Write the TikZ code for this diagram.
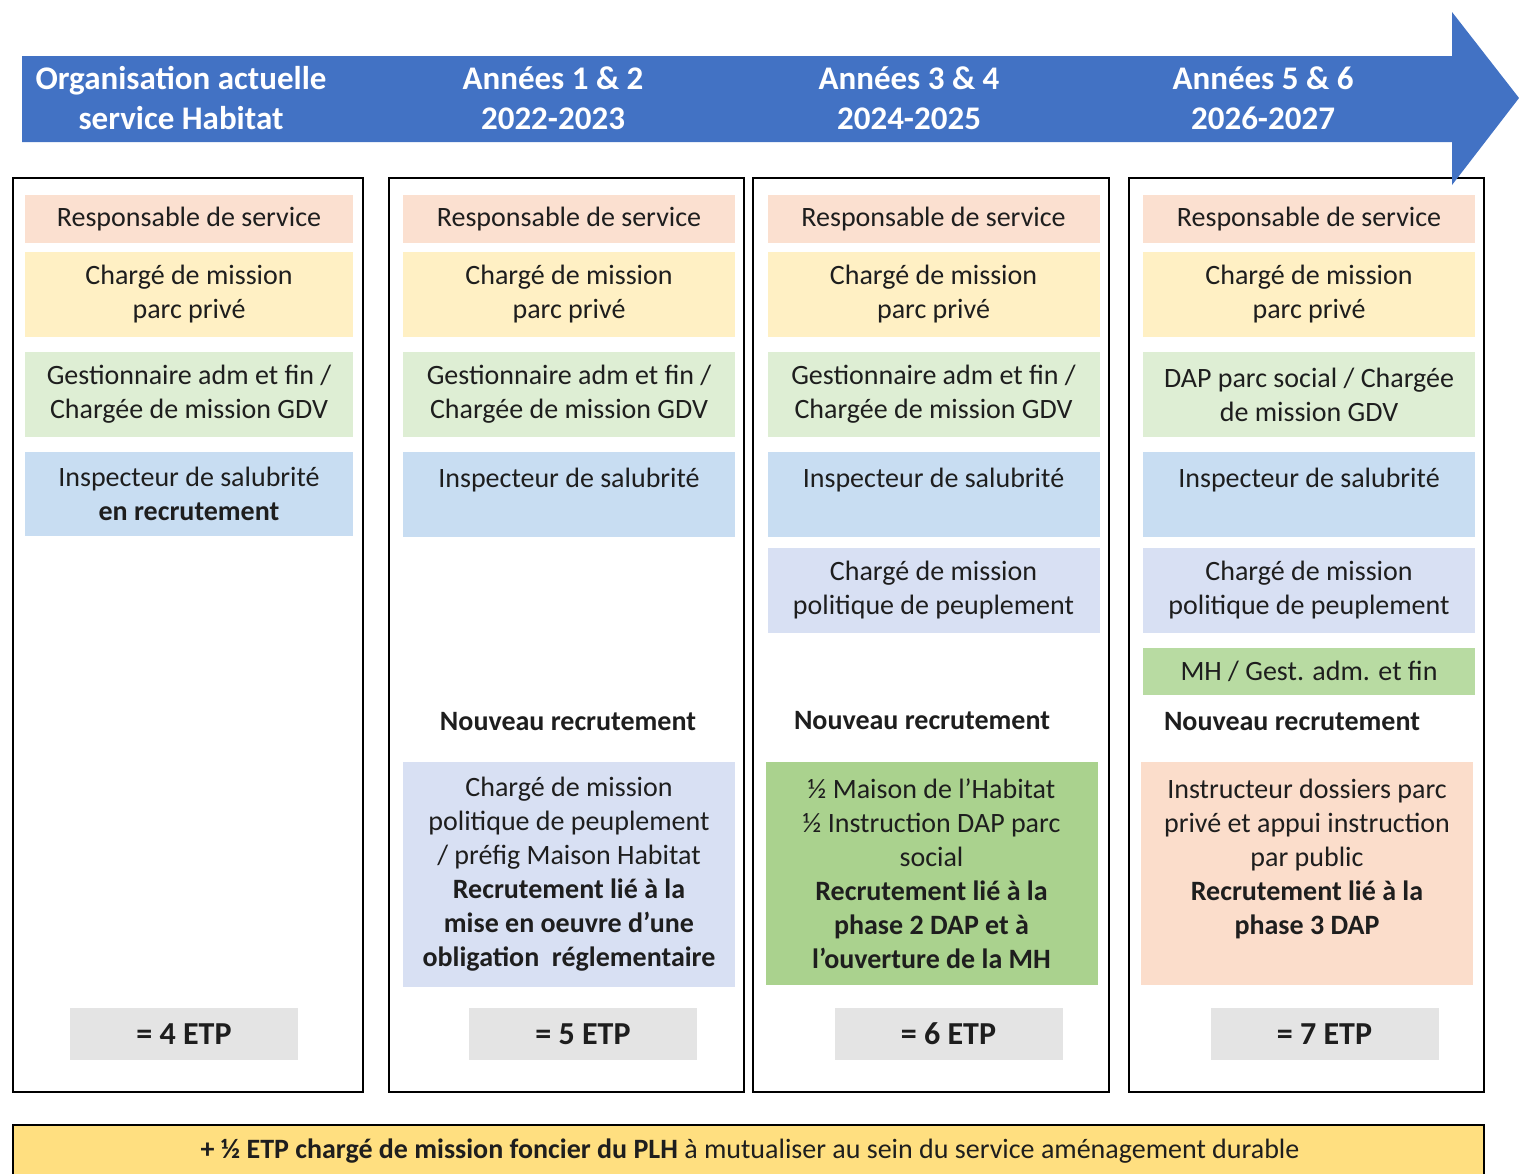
\documentclass[tikz,border=0pt]{standalone}
\usepackage{fontspec}
\setmainfont{Carlito}
\usepackage{xcolor}
\usepackage{tikz}
\usetikzlibrary{positioning}

\definecolor{arrowblue}{RGB}{66,114,196}
\definecolor{peach}{RGB}{251,224,208}
\definecolor{paleyellow}{RGB}{255,240,196}
\definecolor{palegreen}{RGB}{222,238,212}
\definecolor{paleblue}{RGB}{200,221,242}
\definecolor{lavender}{RGB}{216,224,243}
\definecolor{midgreen}{RGB}{170,210,142}
\definecolor{mhgreen}{RGB}{184,219,162}
\definecolor{salmon}{RGB}{251,221,203}
\definecolor{etpgray}{RGB}{228,228,228}
\definecolor{baryellow}{RGB}{255,223,128}
\definecolor{inktext}{RGB}{30,30,30}

\begin{document}
\begin{tikzpicture}[x=0.5pt,y=-0.5pt,
 font=\fontsize{14}{17}\selectfont,text=inktext,
 colbox/.style={draw=black,line width=1pt},
 role/.style={minimum width=166pt,inner sep=0pt,align=center},
 etpbox/.style={fill=etpgray,minimum width=114pt,minimum height=26pt,inner sep=0pt,font=\fontsize{16}{19}\selectfont\bfseries},
 yearhead/.style={text=white,align=center,font=\fontsize{16.5}{20}\selectfont\bfseries},
 newrec/.style={font=\fontsize{14}{17}\selectfont\bfseries}]
\clip (0,0) rectangle (1519,1173);
\useasboundingbox (0,0) rectangle (1519,1173);
\fill[white] (0,0) rectangle (1519,1173);

\draw[colbox] (13,178) rectangle (363,1092);
\draw[colbox] (389,178) rectangle (744,1092);
\draw[colbox] (753,178) rectangle (1109,1092);
\draw[colbox] (1129,178) rectangle (1484,1092);

\fill[arrowblue] (22,56) -- (1452,56) -- (1452,12) -- (1519,98) -- (1452,185) -- (1452,142) -- (22,142) -- cycle;
\node[yearhead] (head1) at (181,98) {Organisation actuelle\\service Habitat};
\node[yearhead] (head2) at (553,98) {Années 1 \& 2\\2022-2023};
\node[yearhead] (head3) at (909,98) {Années 3 \& 4\\2024-2025};
\node[yearhead] (head4) at (1263,98) {Années 5 \& 6\\2026-2027};

% organisation actuelle
\node[role,minimum width=164pt,fill=peach,minimum height=24pt] (resp1) at (189,219) {Responsable de service};
\node[role,minimum width=164pt,fill=paleyellow,minimum height=42.5pt] (cm1) at (189,294.5) {Chargé de mission\\parc privé};
\node[role,minimum width=164pt,fill=palegreen,minimum height=42.5pt] (gest1) at (189,394.5) {Gestionnaire adm et fin /\\Chargée de mission GDV};
\node[role,minimum width=164pt,fill=paleblue,minimum height=42pt] (insp1) at (189,494) {Inspecteur de salubrité\\\textbf{en recrutement}};
\node[etpbox] (etp1) at (184,1034) {= 4 ETP};

% années 1 & 2
\node[role,fill=peach,minimum height=24pt] (resp2) at (569,219) {Responsable de service};
\node[role,fill=paleyellow,minimum height=42.5pt] (cm2) at (569,294.5) {Chargé de mission\\parc privé};
\node[role,fill=palegreen,minimum height=42.5pt] (gest2) at (569,394.5) {Gestionnaire adm et fin /\\Chargée de mission GDV};
\node[role,fill=paleblue,minimum height=42.5pt] (insp2) at (569,494.5) {Inspecteur de salubrité\\\mbox{}};
\node[newrec] (new2) at (568,722) {Nouveau recrutement};
\node[role,fill=lavender,minimum height=112.5pt] (rec2) at (569,874.5) {Chargé de mission\\politique de peuplement\\/ préfig Maison Habitat\\\textbf{Recrutement lié à la}\\\textbf{mise en oeuvre d’une}\\\textbf{obligation\ \ réglementaire}};
\node[etpbox] (etp2) at (583,1034) {= 5 ETP};

% années 3 & 4
\node[role,fill=peach,minimum height=24pt] (resp3) at (933.5,219) {Responsable de service};
\node[role,fill=paleyellow,minimum height=42.5pt] (cm3) at (933.5,294.5) {Chargé de mission\\parc privé};
\node[role,fill=palegreen,minimum height=42.5pt] (gest3) at (933.5,394.5) {Gestionnaire adm et fin /\\Chargée de mission GDV};
\node[role,fill=paleblue,minimum height=42.5pt] (insp3) at (933.5,494.5) {Inspecteur de salubrité\\\mbox{}};
\node[role,fill=lavender,minimum height=42.5pt] (pol3) at (933.5,590.5) {Chargé de mission\\politique de peuplement};
\node[newrec] (new3) at (922,721) {Nouveau recrutement};
\node[role,fill=midgreen,minimum height=111.5pt] (rec3) at (931.5,873.5) {½ Maison de l’Habitat\\½ Instruction DAP parc\\social\\\textbf{Recrutement lié à la}\\\textbf{phase 2 DAP et à}\\\textbf{l’ouverture de la MH}};
\node[etpbox] (etp3) at (948.5,1034) {= 6 ETP};

% années 5 & 6
\node[role,fill=peach,minimum height=24pt] (resp4) at (1309,219) {Responsable de service};
\node[role,fill=paleyellow,minimum height=42.5pt] (cm4) at (1309,294.5) {Chargé de mission\\parc privé};
\node[role,fill=palegreen,minimum height=42.5pt] (dap4) at (1309,394.5) {DAP parc social / Chargée\\de mission GDV};
\node[role,fill=paleblue,minimum height=42.5pt] (insp4) at (1309,494.5) {Inspecteur de salubrité\\\mbox{}};
\node[role,fill=lavender,minimum height=42.5pt] (pol4) at (1309,590.5) {Chargé de mission\\politique de peuplement};
\node[role,fill=mhgreen,minimum height=23.5pt] (mh4) at (1309,671.5) {MH / Gest. adm. et fin};
\node[newrec] (new4) at (1292,722) {Nouveau recrutement};
\node[role,fill=salmon,minimum height=111.5pt] (rec4) at (1307,873.5) {Instructeur dossiers parc\\privé et appui instruction\\par public\\\textbf{Recrutement lié à la}\\\textbf{phase 3 DAP}\\\mbox{}};
\node[etpbox] (etp4) at (1324.5,1034) {= 7 ETP};

\draw[line width=1pt,fill=baryellow] (13,1125) rectangle (1484,1200);
\node (foncier) at (750,1151) {\textbf{+ ½ ETP chargé de mission foncier du PLH} à mutualiser au sein du service aménagement durable};
\end{tikzpicture}
\end{document}
